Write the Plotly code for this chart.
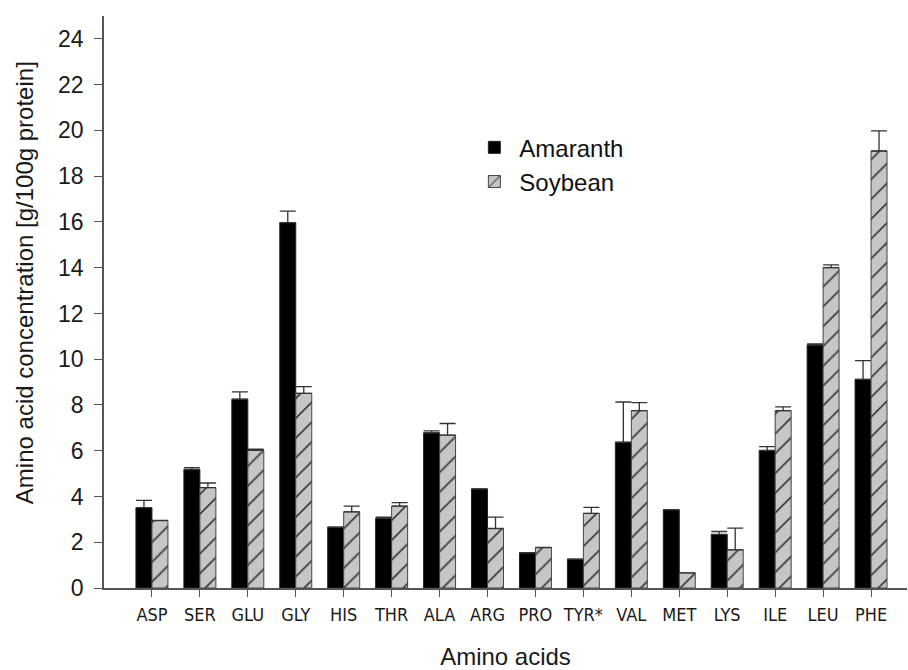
import plotly.graph_objects as go

categories = ["ASP", "SER", "GLU", "GLY", "HIS", "THR", "ALA", "ARG",
              "PRO", "TYR*", "VAL", "MET", "LYS", "ILE", "LEU", "PHE"]
amaranth = [3.51, 5.18, 8.25, 15.97, 2.66, 3.04, 6.78, 4.33,
            1.54, 1.26, 6.37, 3.42, 2.34, 6.01, 10.62, 9.12]
amaranth_err = [0.32, 0.08, 0.32, 0.50, 0.0, 0.06, 0.09, 0.0,
                0.0, 0.0, 1.76, 0.0, 0.13, 0.17, 0.05, 0.82]
soybean = [2.95, 4.39, 6.02, 8.51, 3.33, 3.58, 6.68, 2.60,
           1.77, 3.26, 7.75, 0.66, 1.67, 7.75, 14.0, 19.1]
soybean_err = [0.0, 0.20, 0.05, 0.29, 0.25, 0.15, 0.51, 0.50,
               0.0, 0.26, 0.35, 0.0, 0.95, 0.17, 0.12, 0.88]
y_ticks = list(range(0, 25, 2))

FONT = "Liberation Sans, Arial, Helvetica, sans-serif"
NARROW = "Liberation Sans Narrow, DejaVu Sans Condensed, Arial Narrow, sans-serif"
AXIS = "#555555"

fig = go.Figure()
fig.add_trace(go.Bar(
    x=list(range(len(categories))), y=amaranth, name="Amaranth",
    marker=dict(color="#000000", line=dict(color="#222222", width=1)),
    error_y=dict(type="data", array=amaranth_err, symmetric=False,
                 arrayminus=[0] * len(categories),
                 color="#333333", thickness=1.3, width=8),
))
fig.add_trace(go.Bar(
    x=list(range(len(categories))), y=soybean, name="Soybean",
    marker=dict(color="#c6c6c6", line=dict(color="#444444", width=1),
                pattern=dict(shape="/", bgcolor="#c6c6c6", fgcolor="#3a3a3a",
                             size=14, solidity=0.12, fillmode="replace")),
    error_y=dict(type="data", array=soybean_err, symmetric=False,
                 arrayminus=[0] * len(categories),
                 color="#333333", thickness=1.3, width=8),
))

fig.update_layout(
    width=908, height=670,
    margin=dict(l=104, r=1, t=16, b=82),
    paper_bgcolor="white", plot_bgcolor="white",
    barmode="group", bargap=0.333, bargroupgap=0,
    font=dict(family=FONT, color="#1a1a1a"),
    showlegend=True,
    legend=dict(x=0.455, y=0.809, xanchor="left", yanchor="top",
                font=dict(size=24, family=FONT, color="#111111"),
                bgcolor="rgba(0,0,0,0)", tracegroupgap=0,
                itemwidth=40),
    xaxis=dict(
        range=[-1, 15.75],
        tickmode="array", tickvals=list(range(len(categories))), ticktext=categories,
        showline=True, linecolor=AXIS, linewidth=1.5,
        ticks="outside", ticklen=7, tickcolor=AXIS, tickwidth=1.2,
        tickfont=dict(size=18, family=NARROW, color="#1a1a1a"),
        ticklabelstandoff=3,
        showgrid=False, zeroline=False,
        title=dict(text="Amino acids", font=dict(size=24, family=FONT), standoff=25),
    ),
    yaxis=dict(
        range=[0, 25],
        tickmode="array", tickvals=y_ticks,
        showline=True, linecolor=AXIS, linewidth=1.5,
        ticks="outside", ticklen=8, tickcolor=AXIS, tickwidth=1.2,
        tickfont=dict(size=23, family=FONT, color="#1a1a1a"),
        ticklabelstandoff=6,
        showgrid=False, zeroline=False,
    ),
    annotations=[dict(
        text="Amino acid concentration [g/100g protein]",
        textangle=-90, xref="paper", yref="paper",
        x=-0.0996, y=0.533, xanchor="center", yanchor="middle",
        showarrow=False, font=dict(size=24, family=FONT, color="#1a1a1a"),
    )],
)

fig.write_html("out.html")
